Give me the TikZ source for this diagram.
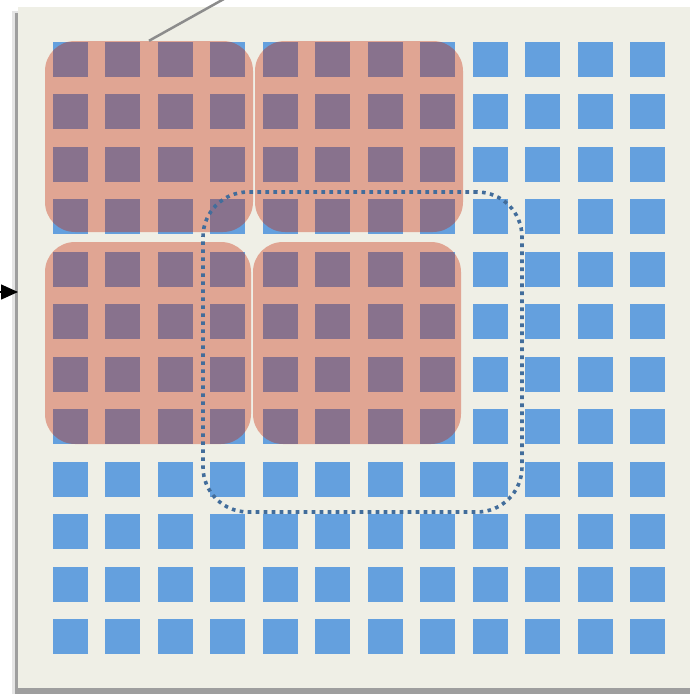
\documentclass[tikz,border=0pt]{standalone}
\usepackage{xcolor}
\usepackage{tikz}
\usetikzlibrary{arrows.meta}
\definecolor{paper}{HTML}{EFEFE6}
\definecolor{cell}{HTML}{64A0DE}
\definecolor{block}{RGB}{200,35,0}
\definecolor{window}{HTML}{426D9B}

\begin{document}
\begin{tikzpicture}[x=1pt, y=-1pt, every node/.style={draw=none, inner sep=0pt},
  cellbox/.style={fill=cell, minimum size=35pt},
  blockbox/.style={fill=block, fill opacity=0.36, rounded corners=30pt, minimum width=208pt},
  windowbox/.style={draw=window, line width=3.6pt, dash pattern=on 3.6pt off 4.4pt, rounded corners=45pt, minimum width=319pt, minimum height=320pt}]
\useasboundingbox (0,0) rectangle (690,694);
% panel and its shadow
\fill[black!10] (12,11) rectangle (690,694);
\fill[black!38] (15,13) rectangle (690,694);
\fill[paper] (18,7) rectangle (690,688);
\foreach \i in {0,...,11}
  \foreach \j in {0,...,11}
    \node[cellbox] (c\i-\j) at ({70.5+52.45*\i},{59.5+52.45*\j}) {};
\node[blockbox, minimum height=191pt] (b1) at (149,136.5) {};
\node[blockbox, minimum height=191pt] (b2) at (359,136.5) {};
\node[blockbox, minimum height=202pt, minimum width=206pt] (b3) at (148,343) {};
\node[blockbox, minimum height=202pt] (b4) at (357,343) {};
\node[windowbox] (win) at (362.5,352) {};
\coordinate (lead) at (240,-10);
\coordinate (feed) at (-40,292);
\coordinate (edge) at (18,292);
\draw[black!45, line width=2.5pt] (b1.north) -- (lead);
\draw[-{Triangle[length=17pt, width=15pt]}, line width=1.5pt] (feed) -- (edge);
\end{tikzpicture}
\end{document}
